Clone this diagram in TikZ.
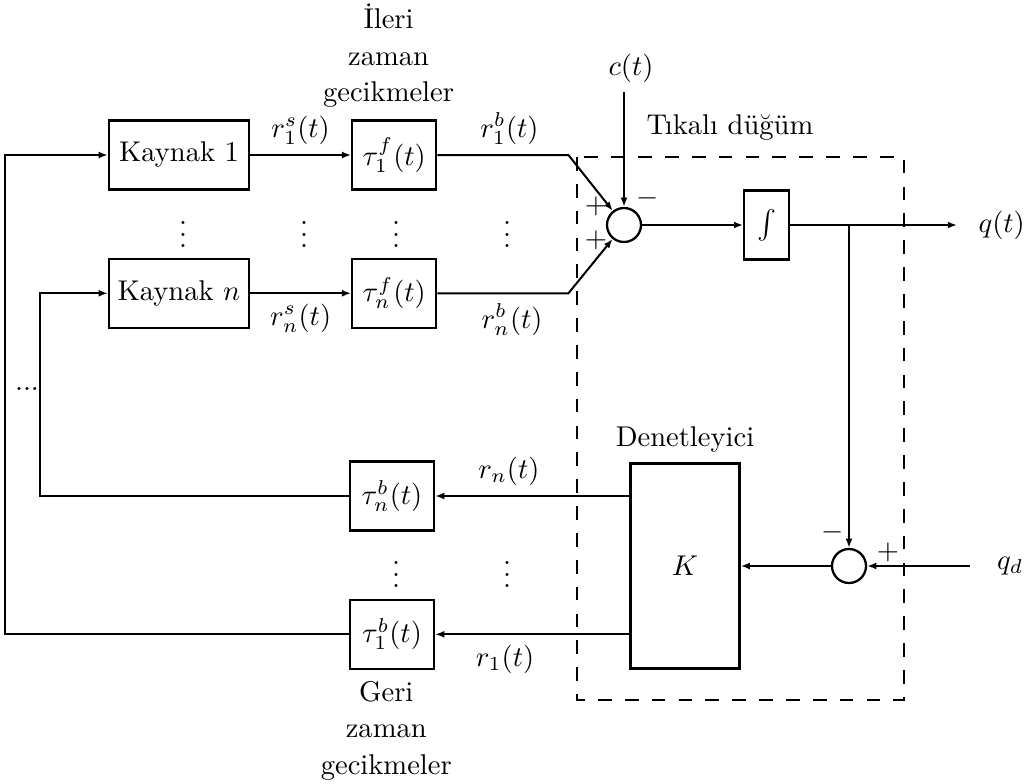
\documentclass[tikz,border=0pt]{standalone}
\usepackage{amsmath,amssymb}
\usepackage{tikz}
\usetikzlibrary{arrows.meta,positioning,calc}
\tikzset{
  blocknode/.style={draw,line width=0.8pt,inner sep=0pt,minimum width=49pt,minimum height=24.15pt,align=center},
  delaynode/.style={draw,line width=0.8pt,inner sep=0pt,minimum width=29.4pt,minimum height=24.15pt},
  sumnode/.style={draw,circle,line width=0.8pt,inner sep=0pt,minimum size=11.9pt},
  arrow/.style={-{Latex[length=3.2pt,width=2.4pt]},line width=0.7pt},
  nodebox/.style={line width=0.8pt,dash pattern=on 4.8pt off 4.6pt},
  signnode/.style={inner sep=0pt,font=\normalsize},
  stacknode/.style={align=center,font=\fontsize{10}{12.8}\selectfont}
}

\begin{document}
\begin{tikzpicture}[x=0.35pt,y=-0.35pt,node distance=23.45pt and 35.35pt]
  \useasboundingbox (0,0) rectangle (1032,784);

  % kaynaklar ve ileri gecikmeler
  \node[blocknode] (k1) at (179,155) {Kaynak 1};
  \node[blocknode,below=of k1] (kn) {Kaynak $n$};
  \node[delaynode,right=of k1] (t1f) {$\tau_1^f(t)$};
  \node[delaynode,right=of kn] (tnf) {$\tau_n^f(t)$};
  \node[stacknode,above=0.5pt of t1f,xshift=-2pt] (ileri) {İleri\\zaman\\gecikmeler};

  % tikali dugum
  \node[sumnode] (sum) at (624,225) {};
  \node[delaynode,minimum width=15.75pt,right=of sum] (integ) {$\int$};
  \node (ct) at (631,68) {$c(t)$};
  \node (tikali) at (730,128) {Tıkalı düğüm};
  \draw[nodebox] (577,157) rectangle (904,700);
  \node[signnode] (p1) at (596,206) {$+$};
  \node[signnode] (p2) at (596,240) {$+$};
  \node[signnode] (m1) at (648,198) {$-$};

  % denetleyici
  \node[draw,line width=0.8pt,minimum width=38.15pt,minimum height=71.75pt] (K) at (685,566) {$K$};
  \node[above=0pt of K] (denet) {Denetleyici};
  \node[sumnode] (err) at (849,566) {};
  \node[signnode] (m2) at (833,532) {$-$};
  \node[signnode] (p3) at (888,552) {$+$};

  % geri gecikmeler
  \node[delaynode] (tnb) at (392,496) {$\tau_n^b(t)$};
  \node[delaynode,below=of tnb] (t1b) {$\tau_1^b(t)$};
  \node[stacknode,below=0.3pt of t1b,xshift=-2pt] (geri) {Geri\\zaman\\gecikmeler};

  % noktalar
  \node (d1) at (183,226) {$\vdots$};
  \node (d2) at (304,226) {$\vdots$};
  \node (d3) at (396,226) {$\vdots$};
  \node (d4) at (507,226) {$\vdots$};
  \node (d5) at (396,566) {$\vdots$};
  \node (d6) at (507,566) {$\vdots$};
  \node (hd) at (27,389) {...};

  % cikislar
  \coordinate (qend) at (957,225);
  \node[right=4pt of qend] (qt) {$q(t)$};
  \coordinate (qdin) at (970,566);
  \node[right=6pt of qdin] (qd) {$q_d$};

  \draw[arrow] (k1) -- node[above]{$r_1^s(t)$} (t1f);
  \draw[arrow] (kn) -- node[below]{$r_n^s(t)$} (tnf);
  \draw[arrow] (t1f.east) -- node[above,pos=0.55]{$r_1^b(t)$} ++(131,0) -- (sum);
  \draw[arrow] (tnf.east) -- node[below,pos=0.57]{$r_n^b(t)$} ++(131,0) -- (sum);
  \draw[arrow] (ct.south -| sum) -- (sum);
  \draw[arrow] (sum) -- (integ);
  \draw[arrow] (integ) -- (qend);
  \draw[arrow] (integ.east -| err) -- (err);
  \draw[arrow] (qdin) -- (err);
  \draw[arrow] (err) -- (K);
  \draw[arrow] (K.west |- tnb) -- node[above,pos=0.62]{$r_n(t)$} (tnb);
  \draw[arrow] (K.west |- t1b) -- node[below,pos=0.64]{$r_1(t)$} (t1b);
  \draw[arrow] (t1b.west) -- ++(-344,0) |- (k1.west);
  \draw[arrow] (tnb.west) -- ++(-309,0) |- (kn.west);
\end{tikzpicture}
\end{document}
